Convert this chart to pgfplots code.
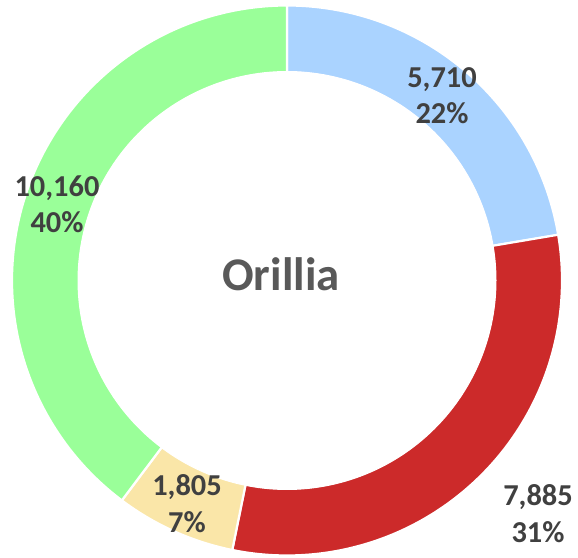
\documentclass[border=0pt]{standalone}
\usepackage{pgfplots}
\pgfplotsset{compat=1.18}
\usepackage{pgfplotstable}
\usepackage{fontspec}
\setmainfont{Carlito}
\definecolor{cblue}{HTML}{AAD3FF}
\definecolor{cred}{HTML}{CC2A2A}
\definecolor{cyellow}{HTML}{FAE6A8}
\definecolor{cgreen}{HTML}{9AFF99}
\definecolor{ctext}{HTML}{404040}
\definecolor{ctitle}{HTML}{595959}
\pgfplotstableread{
label value
A 5710
B 7885
C 1805
D 10160
}\datatable
\pgfplotstablegetelem{0}{value}\of\datatable \let\va\pgfplotsretval
\pgfplotstablegetelem{1}{value}\of\datatable \let\vb\pgfplotsretval
\pgfplotstablegetelem{2}{value}\of\datatable \let\vc\pgfplotsretval
\pgfplotstablegetelem{3}{value}\of\datatable \let\vd\pgfplotsretval
\pgfmathsetmacro{\ka}{\va/1000}
\pgfmathsetmacro{\kb}{\vb/1000}
\pgfmathsetmacro{\kc}{\vc/1000}
\pgfmathsetmacro{\kd}{\vd/1000}
\pgfmathsetmacro{\tot}{\ka+\kb+\kc+\kd}
\pgfmathsetmacro{\aO}{90}
\pgfmathsetmacro{\aA}{\aO-360*\ka/\tot}
\pgfmathsetmacro{\aB}{\aA-360*\kb/\tot}
\pgfmathsetmacro{\aC}{\aB-360*\kc/\tot}
\pgfmathsetmacro{\aD}{\aC-360*\kd/\tot}
\def\cx{287}
\def\cy{277.5}
\def\Ro{275}
\def\Ri{209}
\begin{document}
\begin{tikzpicture}
\begin{axis}[
  width=578bp, height=558bp, scale only axis,
  xmin=0, xmax=578, ymin=0, ymax=558,
  hide axis, clip=false,
]
\path (rel axis cs:0,0) rectangle (rel axis cs:1,1);
\addplot[fill=cblue, draw=white, line width=2.2bp, domain=\aA:\aO, samples=120, variable=\t]
  ({\cx+\Ro*cos(t)},{\cy+\Ro*sin(t)}) -- (axis cs:\cx,\cy) -- cycle;
\addplot[fill=cred, draw=white, line width=2.2bp, domain=\aB:\aA, samples=120, variable=\t]
  ({\cx+\Ro*cos(t)},{\cy+\Ro*sin(t)}) -- (axis cs:\cx,\cy) -- cycle;
\addplot[fill=cyellow, draw=white, line width=2.2bp, domain=\aC:\aB, samples=60, variable=\t]
  ({\cx+\Ro*cos(t)},{\cy+\Ro*sin(t)}) -- (axis cs:\cx,\cy) -- cycle;
\addplot[fill=cgreen, draw=white, line width=2.2bp, domain=\aD:\aC, samples=150, variable=\t]
  ({\cx+\Ro*cos(t)},{\cy+\Ro*sin(t)}) -- (axis cs:\cx,\cy) -- cycle;
\addplot[fill=white, draw=white, line width=1bp, domain=0:360, samples=240, variable=\t]
  ({\cx+\Ri*cos(t)},{\cy+\Ri*sin(t)}) -- cycle;
\node[font=\fontsize{47}{50}\selectfont\bfseries, text=ctitle] at (axis cs:281,284) {Orillia};
\tikzset{lbl/.style={font=\fontsize{30.5}{36.5}\selectfont\bfseries, text=ctext, align=center, anchor=base}}
\node[lbl] at (axis cs:442,434) {5,710\\22\%};
\node[lbl] at (axis cs:57,325) {10,160\\40\%};
\node[lbl] at (axis cs:538,16) {7,885\\31\%};
\node[lbl] at (axis cs:187,26) {1,805\\7\%};
\end{axis}
\end{tikzpicture}
\end{document}
